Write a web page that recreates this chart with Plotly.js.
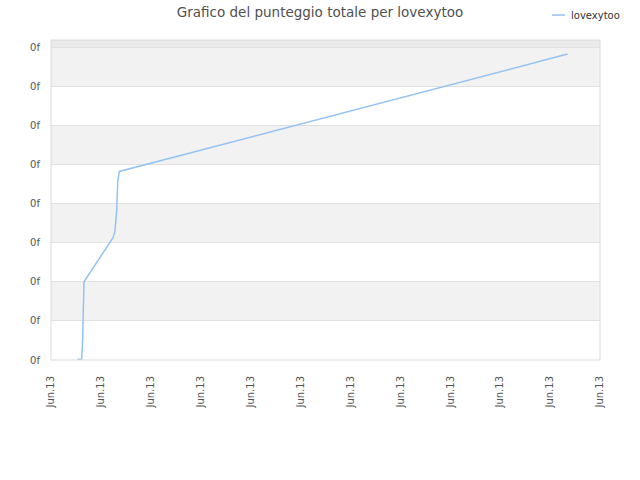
<!DOCTYPE html>
<html>
<head>
<meta charset="utf-8">
<script src="https://cdn.plot.ly/plotly-3.0.1.min.js"></script>
<style>html,body{margin:0;padding:0;background:#fff;}#chart{width:640px;height:480px;}</style>
</head>
<body>
<div id="chart"></div>
<script>
// Data (x in tick units along the time axis)
const seriesName = "lovexytoo";
const xValues = [0.53, 0.615, 0.635, 0.641, 0.661, 1.24, 1.28, 1.317, 1.337, 1.369, 10.35];
const yValues = [0.02, 0.02, 0.56, 1.2, 2.0, 3.12, 3.28, 3.84, 4.56, 4.82, 7.82];
const xTickVals = [0, 1, 2, 3, 4, 5, 6, 7, 8, 9, 10, 11];
const xTickText = ["Jun.13","Jun.13","Jun.13","Jun.13","Jun.13","Jun.13","Jun.13","Jun.13","Jun.13","Jun.13","Jun.13","Jun.13"];
const yTickVals = [0, 1, 2, 3, 4, 5, 6, 7, 8];
const yTickText = ["0f","0f","0f","0f","0f","0f","0f","0f","0f"];

const lineColor = "#93c3f3";
const yTop = 8.18;
const shapes = [];
for (let i = 0; i < yTickVals.length - 1; i++) {
  if (i % 2 === 1) {
    shapes.push({type: "rect", xref: "paper", yref: "y", x0: 0, x1: 1,
      y0: yTickVals[i], y1: yTickVals[i + 1], fillcolor: "#f2f2f2", line: {width: 0}, layer: "below"});
  }
}
shapes.push({type: "rect", xref: "paper", yref: "y", x0: 0, x1: 1,
  y0: yTickVals[yTickVals.length - 1], y1: yTop, fillcolor: "#ebebeb", line: {width: 0}, layer: "below"});
shapes.push({type: "rect", xref: "paper", yref: "paper", x0: 0, x1: 1, y0: 0, y1: 1,
  fillcolor: "rgba(0,0,0,0)", line: {color: "#dadada", width: 1}, layer: "above"});
// legend sample line (drawn manually to match the short sample in the reference)
shapes.push({type: "line", xref: "paper", yref: "paper", x0: 0.9126, x1: 0.9362, y0: 1.078, y1: 1.078,
  line: {color: lineColor, width: 1.5}});

const trace = {
  x: xValues, y: yValues, type: "scatter", mode: "lines", name: seriesName,
  line: {color: lineColor, width: 1.5}, showlegend: false
};

const layout = {
  width: 640, height: 480,
  margin: {l: 51, r: 40, t: 40, b: 120},
  paper_bgcolor: "#ffffff", plot_bgcolor: "#ffffff",
  font: {family: "DejaVu Sans, Verdana, sans-serif", size: 10, color: "#555555"},
  title: {text: "Grafico del punteggio totale per lovexytoo", x: 0.5, xanchor: "center", y: 0.975, yanchor: "middle",
    font: {family: "DejaVu Sans, Verdana, sans-serif", size: 13.5, color: "#505050"}},
  xaxis: {range: [0, 11], tickmode: "array", tickvals: xTickVals, ticktext: xTickText, tickangle: -90,
    showgrid: false, zeroline: false, showline: false, ticks: "", ticklabelstandoff: 13,
    tickfont: {size: 10, color: "#555555"}, fixedrange: true},
  yaxis: {range: [0, yTop], tickmode: "array", tickvals: yTickVals, ticktext: yTickText,
    showgrid: true, gridcolor: "#e0e0e0", gridwidth: 1, zeroline: false, showline: false,
    ticks: "", ticklabelstandoff: 10, tickfont: {size: 10, color: "#555555"}, fixedrange: true},
  shapes: shapes,
  showlegend: false,
  annotations: [{text: seriesName, xref: "paper", yref: "paper", x: 0.9436, y: 1.078,
    xanchor: "left", yanchor: "middle", showarrow: false, font: {size: 10, color: "#333333"}}]
};

Plotly.newPlot("chart", [trace], layout, {displayModeBar: false, staticPlot: true});
</script>
</body>
</html>
